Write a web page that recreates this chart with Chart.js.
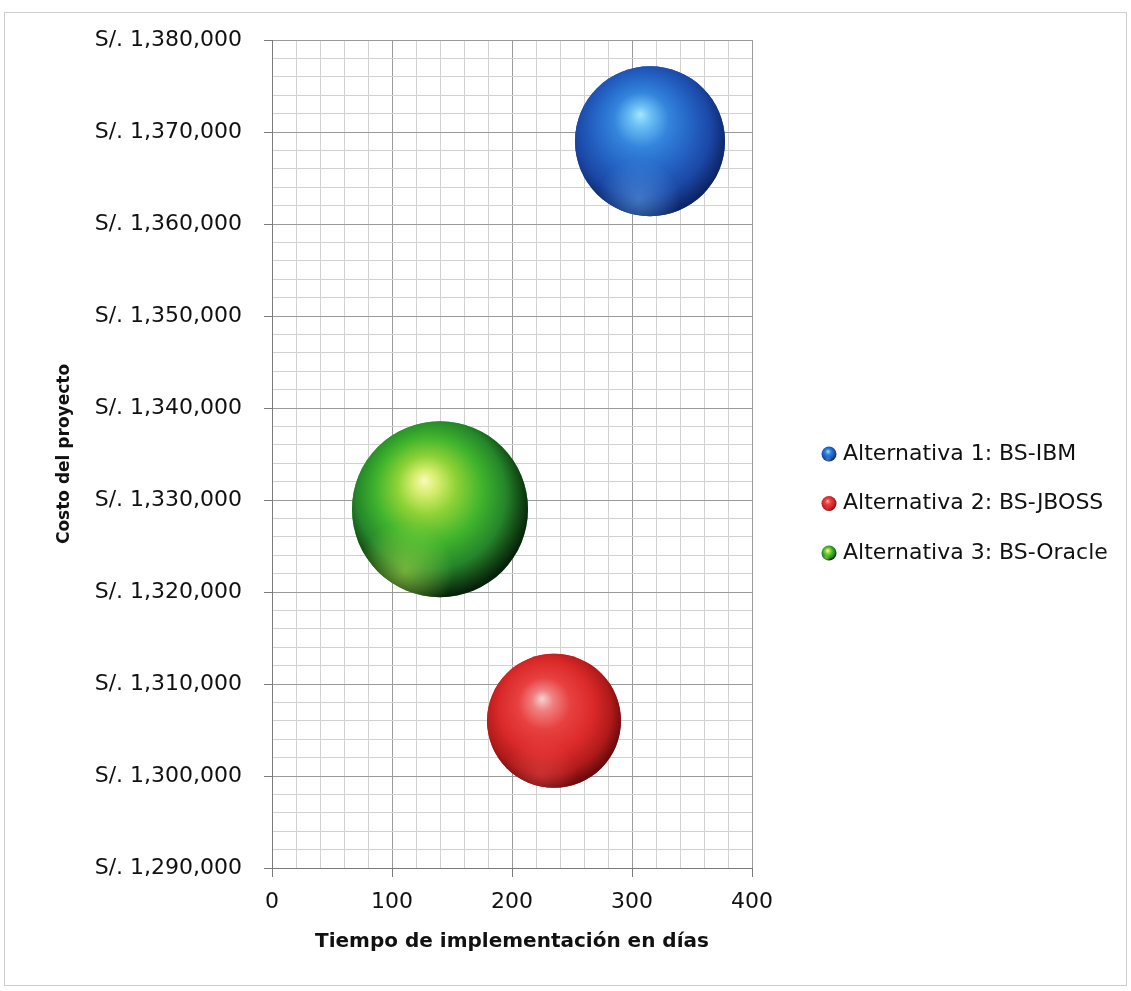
<!DOCTYPE html>
<html lang="es">
<head>
<meta charset="utf-8">
<title>Costo vs. tiempo de implementación</title>
<script src="https://cdn.jsdelivr.net/npm/chart.js@4/dist/chart.umd.min.js"></script>
<style>
  html, body { margin: 0; padding: 0; background: #ffffff; }
  #wrap { position: relative; width: 1131px; height: 991px; }
</style>
</head>
<body>
<div id="wrap"><canvas id="chart" width="1131" height="991"></canvas></div>
<script>
// Alternativas evaluadas
const categories = ['Alternativa 1: BS-IBM', 'Alternativa 2: BS-JBOSS', 'Alternativa 3: BS-Oracle'];
// Tiempo de implementación (días)
const tiempoDias = [315, 235, 140];
// Costo del proyecto (S/.)
const costoProyecto = [1369000, 1306000, 1329000];
// Tamaño de cada burbuja (radio en px)
const tamanoBurbuja = [75, 67, 88];

// Rangos de los ejes
const xMin = 0, xMax = 400, xMajor = 100, xMinor = 20;
const yMin = 1290000, yMax = 1380000, yMajor = 10000, yMinor = 2000;

// Sombreado de esfera para cada serie
const palettes = [
  { base: '#2463c4', hl: [-0.13, -0.36], rimPos: [-0.15, 0.78],
    stops: [[0, '#a4e6ff'], [0.12, '#6cc0f4'], [0.33, '#3384dc'], [0.58, '#2463c4'], [0.8, '#1b48a6'], [1, '#0c2466']],
    rim: 'rgba(110,180,245,0.45)', rimEnd: 'rgba(110,180,245,0)' },
  { base: '#e03232', hl: [-0.18, -0.33], rimPos: [-0.2, 0.8],
    stops: [[0, '#f9d0d0'], [0.14, '#f08080'], [0.35, '#e84040'], [0.62, '#dc2a2a'], [0.85, '#b01a1a'], [1, '#6a0a0a']],
    rim: 'rgba(245,90,90,0.35)', rimEnd: 'rgba(245,90,90,0)' },
  { base: '#3fb42c', hl: [-0.18, -0.33], rimPos: [-0.4, 0.7],
    stops: [[0, '#fafab8'], [0.12, '#d8ee70'], [0.3, '#8ed236'], [0.54, '#3fb42c'], [0.76, '#25862a'], [0.9, '#124a14'], [1, '#06200a']],
    rim: 'rgba(185,230,80,0.55)', rimEnd: 'rgba(185,230,80,0)' }
];

const FONT = '"DejaVu Sans", "Open Sans", sans-serif';

// The plot area keeps its own margins; bubbles do not push the layout inward.
Chart.BubbleController.prototype.getMaxOverflow = function () { return false; };

function drawSphere(ctx, cx, cy, r, pal) {
  ctx.save();
  ctx.beginPath();
  ctx.arc(cx, cy, r, 0, Math.PI * 2);
  ctx.closePath();
  const hx = cx + pal.hl[0] * r, hy = cy + pal.hl[1] * r;
  const g = ctx.createRadialGradient(hx, hy, 0, cx - 0.08 * r, cy - 0.12 * r, r * 1.12);
  pal.stops.forEach(([o, c]) => g.addColorStop(o, c));
  ctx.fillStyle = g;
  ctx.fill();
  ctx.clip();
  const rx = cx + pal.rimPos[0] * r, ry = cy + pal.rimPos[1] * r;
  const g2 = ctx.createRadialGradient(rx, ry, 0, rx, ry, 0.55 * r);
  g2.addColorStop(0, pal.rim);
  g2.addColorStop(1, pal.rimEnd);
  ctx.fillStyle = g2;
  ctx.fillRect(cx - r, cy - r, 2 * r, 2 * r);
  ctx.restore();
}

const datasets = categories.map((label, i) => ({
  label,
  data: [{ x: tiempoDias[i], y: costoProyecto[i], r: tamanoBurbuja[i] }],
  backgroundColor: palettes[i].base,
  borderWidth: 0,
  hoverBorderWidth: 0,
  clip: false
}));

// Fondo y marco del gráfico
const framePlugin = {
  id: 'frame',
  beforeDraw(chart) {
    const ctx = chart.ctx;
    ctx.save();
    ctx.fillStyle = '#ffffff';
    ctx.fillRect(0, 0, chart.width, chart.height);
    ctx.strokeStyle = '#cdcdcd';
    ctx.lineWidth = 1;
    ctx.strokeRect(4.5, 12.5, chart.width - 9, chart.height - 18);
    ctx.restore();
  }
};

// Burbujas con aspecto de esfera
const spherePlugin = {
  id: 'spheres',
  afterDatasetsDraw(chart) {
    const ctx = chart.ctx;
    chart.data.datasets.forEach((ds, i) => {
      const meta = chart.getDatasetMeta(i);
      meta.data.forEach(el => {
        const { x, y } = el.getProps(['x', 'y'], true);
        drawSphere(ctx, x, y, el.options.radius, palettes[i]);
      });
    });
  }
};

// Leyenda a la derecha
const legendPlugin = {
  id: 'sphereLegend',
  afterDraw(chart) {
    const ctx = chart.ctx;
    const area = chart.chartArea;
    const iconX = area.right + 77;
    const textX = area.right + 91;
    const rowH = 49.5;
    const firstY = 454;
    ctx.save();
    ctx.font = '22px ' + FONT;
    ctx.fillStyle = '#111111';
    ctx.textBaseline = 'middle';
    ctx.textAlign = 'left';
    chart.data.datasets.forEach((ds, i) => {
      const y = firstY + i * rowH;
      drawSphere(ctx, iconX, y, 7.5, palettes[i]);
      ctx.fillText(ds.label, textX, y);
    });
    ctx.restore();
  }
};

const gridMajor = '#9a9a9a';
const gridMinor = '#d2d2d2';

new Chart(document.getElementById('chart'), {
  type: 'bubble',
  data: { datasets },
  plugins: [framePlugin, spherePlugin, legendPlugin],
  options: {
    responsive: false,
    animation: false,
    events: [],
    layout: { padding: { top: 40, right: 379, bottom: 0, left: 0 } },
    plugins: {
      legend: { display: false },
      tooltip: { enabled: false }
    },
    scales: {
      x: {
        type: 'linear',
        min: xMin, max: xMax,
        afterFit(scale) { scale.height = 123; },
        border: { display: true, color: '#7a7a7a', width: 1 },
        grid: {
          color: c => (c.tick.value % xMajor === 0 ? gridMajor : gridMinor),
          tickColor: c => (c.tick.value % xMajor === 0 ? '#7a7a7a' : 'rgba(0,0,0,0)'),
          tickLength: 9,
          lineWidth: 1
        },
        ticks: {
          stepSize: xMinor,
          autoSkip: false,
          maxRotation: 0,
          padding: 12,
          color: '#111111',
          font: { family: FONT, size: 22 },
          callback: v => (v % xMajor === 0 ? String(v) : '')
        },
        title: {
          display: true,
          text: 'Tiempo de implementación en días',
          color: '#111111',
          font: { family: FONT, size: 20, weight: 'bold' },
          padding: { top: 0, bottom: 37 }
        }
      },
      y: {
        type: 'linear',
        min: yMin, max: yMax,
        afterFit(scale) { scale.width = 272; },
        border: { display: true, color: '#7a7a7a', width: 1 },
        grid: {
          color: c => (c.tick.value % yMajor === 0 ? gridMajor : gridMinor),
          tickColor: c => (c.tick.value % yMajor === 0 ? '#7a7a7a' : 'rgba(0,0,0,0)'),
          tickLength: 8,
          lineWidth: 1
        },
        ticks: {
          stepSize: yMinor,
          autoSkip: false,
          padding: 22,
          color: '#111111',
          font: { family: FONT, size: 22 },
          callback: v => (v % yMajor === 0 ? 'S/. ' + Number(v).toLocaleString('en-US') : '')
        },
        title: {
          display: true,
          text: 'Costo del proyecto',
          color: '#111111',
          font: { family: FONT, size: 17, weight: 'bold' },
          padding: { top: 54, bottom: 0 }
        }
      }
    }
  }
});
</script>
</body>
</html>
